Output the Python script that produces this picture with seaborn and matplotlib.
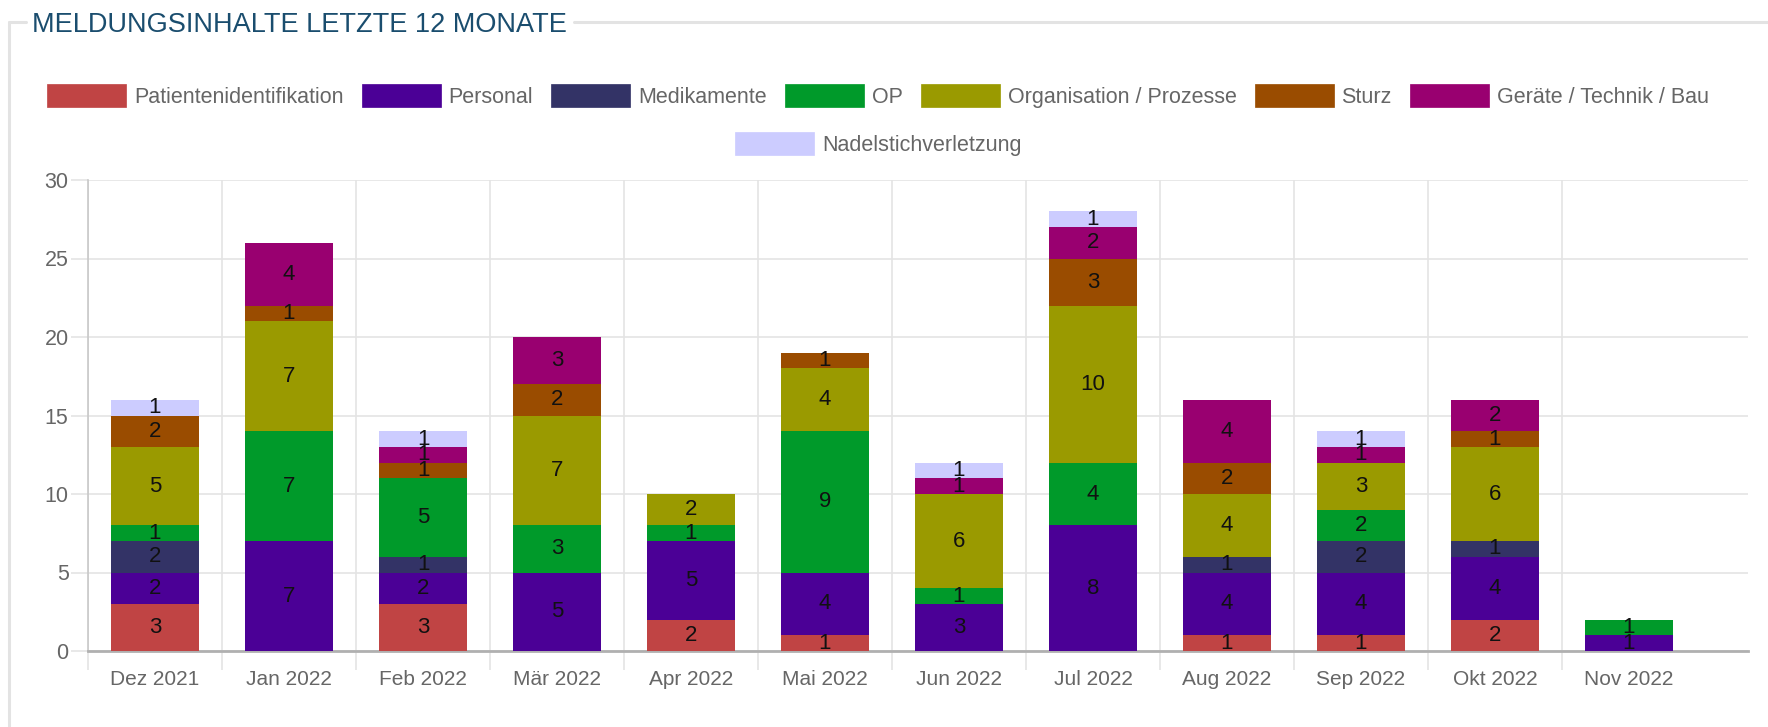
import numpy as np
import pandas as pd
import matplotlib
matplotlib.use("Agg")
import matplotlib.pyplot as plt
import seaborn as sns
from matplotlib.patches import Patch
from matplotlib.lines import Line2D

months = ["Dez 2021", "Jan 2022", "Feb 2022", "Mär 2022", "Apr 2022", "Mai 2022",
          "Jun 2022", "Jul 2022", "Aug 2022", "Sep 2022", "Okt 2022", "Nov 2022"]
categories = ["Patientenidentifikation", "Personal", "Medikamente", "OP",
              "Organisation / Prozesse", "Sturz", "Geräte / Technik / Bau",
              "Nadelstichverletzung"]
patientenidentifikation = [3, 0, 3, 0, 2, 1, 0, 0, 1, 1, 2, 0]
personal = [2, 7, 2, 5, 5, 4, 3, 8, 4, 4, 4, 1]
medikamente = [2, 0, 1, 0, 0, 0, 0, 0, 1, 2, 1, 0]
op = [1, 7, 5, 3, 1, 9, 1, 4, 0, 2, 0, 1]
organisation = [5, 7, 0, 7, 2, 4, 6, 10, 4, 3, 6, 0]
sturz = [2, 1, 1, 2, 0, 1, 0, 3, 2, 0, 1, 0]
geraete = [0, 4, 1, 3, 0, 0, 1, 2, 4, 1, 2, 0]
nadelstich = [1, 0, 1, 0, 0, 0, 1, 1, 0, 1, 0, 0]
colors = ["#c04444", "#4b0096", "#333366", "#009a2a", "#9a9a00",
          "#9a4c00", "#990070", "#ccccff"]
y_ticks = [0, 5, 10, 15, 20, 25, 30]

series = [patientenidentifikation, personal, medikamente, op, organisation,
          sturz, geraete, nadelstich]
rows = []
for mi, m in enumerate(months):
    for cat, vals in zip(categories, series):
        rows.append({"Monat": m, "Kategorie": cat, "Anzahl": vals[mi]})
df = pd.DataFrame(rows)

sns.set_theme(style="white")
plt.rcParams["font.family"] = ["Liberation Sans", "DejaVu Sans"]

fig = plt.figure(figsize=(17.68, 7.27), dpi=100)
ax = fig.add_axes([88 / 1768, 1 - 651 / 727, (1748 - 88) / 1768, (651 - 180) / 727])

# seaborn stacks the last hue level at the bottom -> reverse order
sns.histplot(data=df, x="Monat", hue="Kategorie", weights="Anzahl",
             hue_order=categories[::-1], palette=colors[::-1], multiple="stack",
             discrete=True, shrink=0.65, alpha=1, linewidth=0,
             legend=False, ax=ax, zorder=3)

for c in ax.containers:
    ax.bar_label(c, fmt=lambda v: f"{v:.0f}" if v > 0 else "",
                 label_type="center", fontsize=16, color="#111111")

n = len(months)
ax.set_xlim(-0.5, n - 0.5 + 52 / 134)
ax.set_ylim(0, 30)
ax.set_yticks(y_ticks)
ax.set_xticks(range(n))
ax.set_xticklabels(months)
ax.set_xticks([i - 0.5 for i in range(n)], minor=True)
ax.set_xlabel("")
ax.set_ylabel("")

ax.grid(False)
ax.yaxis.grid(True, color="#e4e4e4", linewidth=1.2, zorder=0)
ax.xaxis.grid(True, which="minor", color="#e4e4e4", linewidth=1.2, zorder=0)
ax.set_axisbelow(True)

ax.tick_params(axis="x", which="major", length=0, pad=14, labelsize=15, labelcolor="#666666")
ax.tick_params(axis="x", which="minor", length=14, width=1.2, color="#e4e4e4", bottom=True)
ax.tick_params(axis="y", length=12, width=1.2, color="#e4e4e4", pad=2,
               labelsize=15.5, labelcolor="#666666", left=True)

for s in ["top", "right"]:
    ax.spines[s].set_visible(False)
ax.spines["left"].set_color("#c8c8c8")
ax.spines["left"].set_linewidth(1.2)
ax.spines["bottom"].set_color("#b0b0b0")
ax.spines["bottom"].set_linewidth(2)

# legend
lfs = 15.5
px = lfs * 100 / 72
handles = [Patch(facecolor=c, edgecolor=c, linewidth=0.5) for c in colors]
common = dict(loc="center", frameon=False, fontsize=lfs,
              handlelength=79 / px, handleheight=27 / px,
              handletextpad=8 / px, columnspacing=18 / px,
              labelcolor="#666666", borderpad=0, borderaxespad=0)
leg1 = fig.legend(handles[:7], categories[:7], ncol=7,
                  bbox_to_anchor=(878 / 1768, 1 - 96 / 727), **common)
leg2 = fig.legend(handles[7:], categories[7:], ncol=1,
                  bbox_to_anchor=(878 / 1768, 1 - 144 / 727), **common)

# title and fieldset border
fig.text(32 / 1768, 1 - 25 / 727, "MELDUNGSINHALTE LETZTE 12 MONATE",
         ha="left", va="center", fontsize=19.5, color="#1a4d6e")
bc = "#e3e3e3"
yb = 1 - 22 / 727
fig.add_artist(Line2D([9 / 1768, 9 / 1768], [0, yb], transform=fig.transFigure, color=bc, linewidth=2.2))
fig.add_artist(Line2D([9 / 1768, 26 / 1768], [yb, yb], transform=fig.transFigure, color=bc, linewidth=2.2))
fig.add_artist(Line2D([574 / 1768, 1], [yb, yb], transform=fig.transFigure, color=bc, linewidth=2.2))

fig.savefig("out.png", dpi=100)
